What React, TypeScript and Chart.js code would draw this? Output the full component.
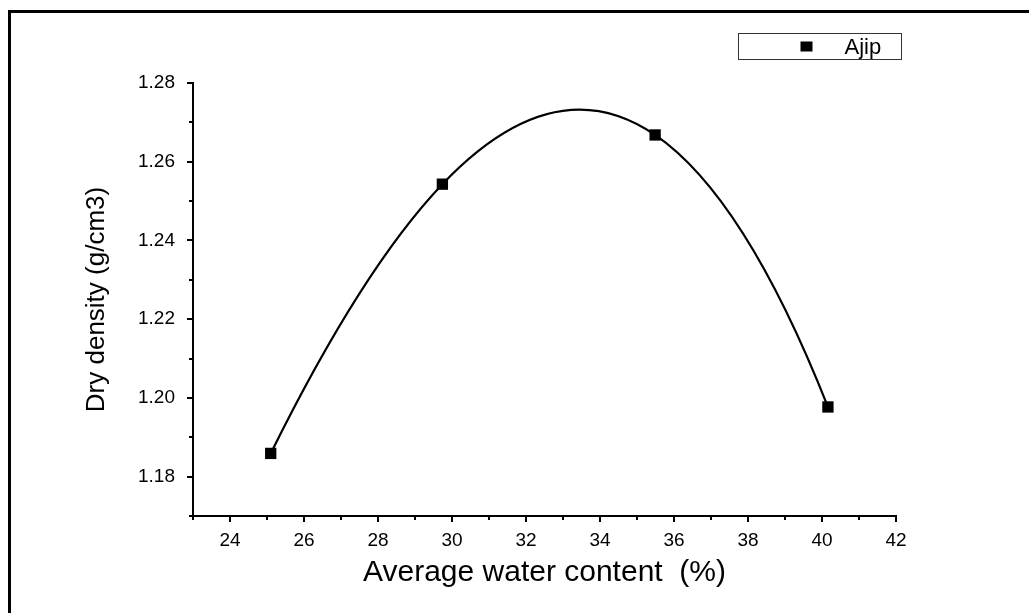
import React, { useEffect, useRef } from 'react';
import { Chart, registerables } from 'chart.js';

Chart.register(...registerables);

const seriesLabel = 'Ajip';
const waterContent = [25.1, 29.74, 35.49, 40.16];
const dryDensity = [1.1859, 1.2543, 1.2668, 1.1977];
const xTicks = [24, 26, 28, 30, 32, 34, 36, 38, 40, 42];
const xMinorTicks = [23, 25, 27, 29, 31, 33, 35, 37, 39, 41];
const yTicks = [1.18, 1.2, 1.22, 1.24, 1.26, 1.28];
const yMinorTicks = [1.17, 1.19, 1.21, 1.23, 1.25, 1.27];
const xTitle = 'Average water content  (%)';
const yTitle = 'Dry density (g/cm3)';

const FONT = "'Liberation Sans', Arial, sans-serif";

// Newton divided differences of the interpolating polynomial through the data
function newtonCoefs(xs: number[], ys: number[]) {
  const n = xs.length;
  const c = ys.slice();
  for (let j = 1; j < n; j++) {
    for (let i = n - 1; i >= j; i--) {
      c[i] = (c[i] - c[i - 1]) / (xs[i] - xs[i - j]);
    }
  }
  return c;
}

// derivative of Newton-form polynomial at x
function newtonDeriv(xs: number[], c: number[], x: number) {
  const n = c.length;
  let p = c[n - 1];
  let dp = 0;
  for (let i = n - 2; i >= 0; i--) {
    dp = dp * (x - xs[i]) + p;
    p = p * (x - xs[i]) + c[i];
  }
  return dp;
}

// make Chart.js's own bezier segments follow the smooth interpolating curve
const smoothCurvePlugin = {
  id: 'smoothCurve',
  beforeDatasetsDraw(chart: any) {
    const meta = chart.getDatasetMeta(0);
    const line = meta.dataset;
    const pts = meta.data;
    const xs = chart.scales.x;
    const ys = chart.scales.y;
    const c = newtonCoefs(waterContent, dryDensity);
    const n = waterContent.length;
    for (let i = 0; i < n; i++) {
      const x = waterContent[i];
      const y = dryDensity[i];
      const d = newtonDeriv(waterContent, c, x);
      const dxPrev = i > 0 ? (x - waterContent[i - 1]) / 3 : 0;
      const dxNext = i < n - 1 ? (waterContent[i + 1] - x) / 3 : 0;
      pts[i].cp1x = xs.getPixelForValue(x - dxPrev);
      pts[i].cp1y = ys.getPixelForValue(y - d * dxPrev);
      pts[i].cp2x = xs.getPixelForValue(x + dxNext);
      pts[i].cp2y = ys.getPixelForValue(y + d * dxNext);
    }
    line._pointsUpdated = true;
    delete line._path;
  },
};

const minorTicksPlugin = {
  id: 'minorTicks',
  afterDraw(chart: any) {
    const { ctx, scales } = chart;
    const x = scales.x;
    const y = scales.y;
    ctx.save();
    ctx.strokeStyle = '#000';
    ctx.lineWidth = 2;
    ctx.beginPath();
    xMinorTicks.forEach((v) => {
      const px = Math.round(x.getPixelForValue(v));
      ctx.moveTo(px, x.top);
      ctx.lineTo(px, x.top + 4);
    });
    yMinorTicks.forEach((v) => {
      const py = Math.round(y.getPixelForValue(v));
      ctx.moveTo(y.right, py);
      ctx.lineTo(y.right - 4, py);
    });
    ctx.stroke();
    ctx.restore();
  },
};

const boxLegendPlugin = {
  id: 'boxLegend',
  afterDraw(chart: any) {
    const { ctx } = chart;
    const ds = chart.data.datasets[0];
    const left = 738.5;
    const top = 33.5;
    const w = 163;
    const h = 26;
    ctx.save();
    ctx.strokeStyle = '#333';
    ctx.lineWidth = 1;
    ctx.strokeRect(left, top, w, h);
    const cy = top + h / 2;
    ctx.fillStyle = ds.pointBackgroundColor;
    ctx.fillRect(left + 62, cy - 5, 12, 10);
    ctx.fillStyle = '#000';
    ctx.font = `22px ${FONT}`;
    ctx.textBaseline = 'middle';
    ctx.textAlign = 'left';
    ctx.fillText(ds.label, left + 106, cy + 1);
    ctx.restore();
  },
};

export default function App() {
  const canvasRef = useRef<HTMLCanvasElement | null>(null);

  useEffect(() => {
    if (!canvasRef.current) return;
    const chart = new Chart(canvasRef.current, {
      type: 'line',
      data: {
        datasets: [
          {
            label: seriesLabel,
            data: waterContent.map((w, i) => ({ x: w, y: dryDensity[i] })),
            borderColor: '#000',
            borderWidth: 2.2,
            tension: 0.4,
            pointStyle: 'rect',
            pointRadius: 8,
            pointBackgroundColor: '#000',
            pointBorderColor: '#000',
            pointBorderWidth: 0,
            fill: false,
          },
        ],
      },
      options: {
        animation: false,
        responsive: true,
        maintainAspectRatio: false,
        layout: { padding: { top: 83, right: 133, left: 0, bottom: 0 } },
        plugins: {
          legend: { display: false },
          tooltip: { enabled: false },
        },
        scales: {
          x: {
            type: 'linear',
            min: 23,
            max: 42,
            afterBuildTicks: (scale: any) => {
              scale.ticks = xTicks.map((v) => ({ value: v }));
            },
            afterFit: (scale: any) => {
              scale.height = 97;
            },
            border: { display: true, color: '#000', width: 2 },
            grid: {
              display: true,
              drawOnChartArea: false,
              drawTicks: true,
              tickLength: 6,
              color: '#000',
              lineWidth: 2,
            },
            ticks: {
              color: '#000',
              padding: 7,
              maxRotation: 0,
              autoSkip: false,
              font: { family: FONT, size: 19 },
              callback: (v: any) => String(v),
            },
            title: {
              display: true,
              text: xTitle,
              color: '#000',
              font: { family: FONT, size: 30 },
              padding: { top: 0, bottom: 22 },
            },
          },
          y: {
            type: 'linear',
            min: 1.17,
            max: 1.28,
            afterBuildTicks: (scale: any) => {
              scale.ticks = yTicks.map((v) => ({ value: v }));
            },
            afterFit: (scale: any) => {
              scale.width = 193;
            },
            border: { display: true, color: '#000', width: 2 },
            grid: {
              display: true,
              drawOnChartArea: false,
              drawTicks: true,
              tickLength: 6,
              color: '#000',
              lineWidth: 2,
            },
            ticks: {
              color: '#000',
              padding: 12,
              autoSkip: false,
              font: { family: FONT, size: 19 },
              callback: (v: any) => Number(v).toFixed(2),
            },
            title: {
              display: true,
              text: yTitle,
              color: '#000',
              font: { family: FONT, size: 26 },
              padding: { top: 81, bottom: 0 },
            },
          },
        },
      },
      plugins: [smoothCurvePlugin, minorTicksPlugin, boxLegendPlugin],
    });
    return () => chart.destroy();
  }, []);

  return (
    <>
      <div
        style={{
          position: 'fixed',
          left: 8,
          top: 10,
          right: 0,
          bottom: 0,
          borderLeft: '3px solid #000',
          borderTop: '3px solid #000',
          pointerEvents: 'none',
        }}
      />
      <div style={{ position: 'fixed', left: 0, top: 0, width: 1029, height: 613 }}>
        <canvas ref={canvasRef} />
      </div>
    </>
  );
}
